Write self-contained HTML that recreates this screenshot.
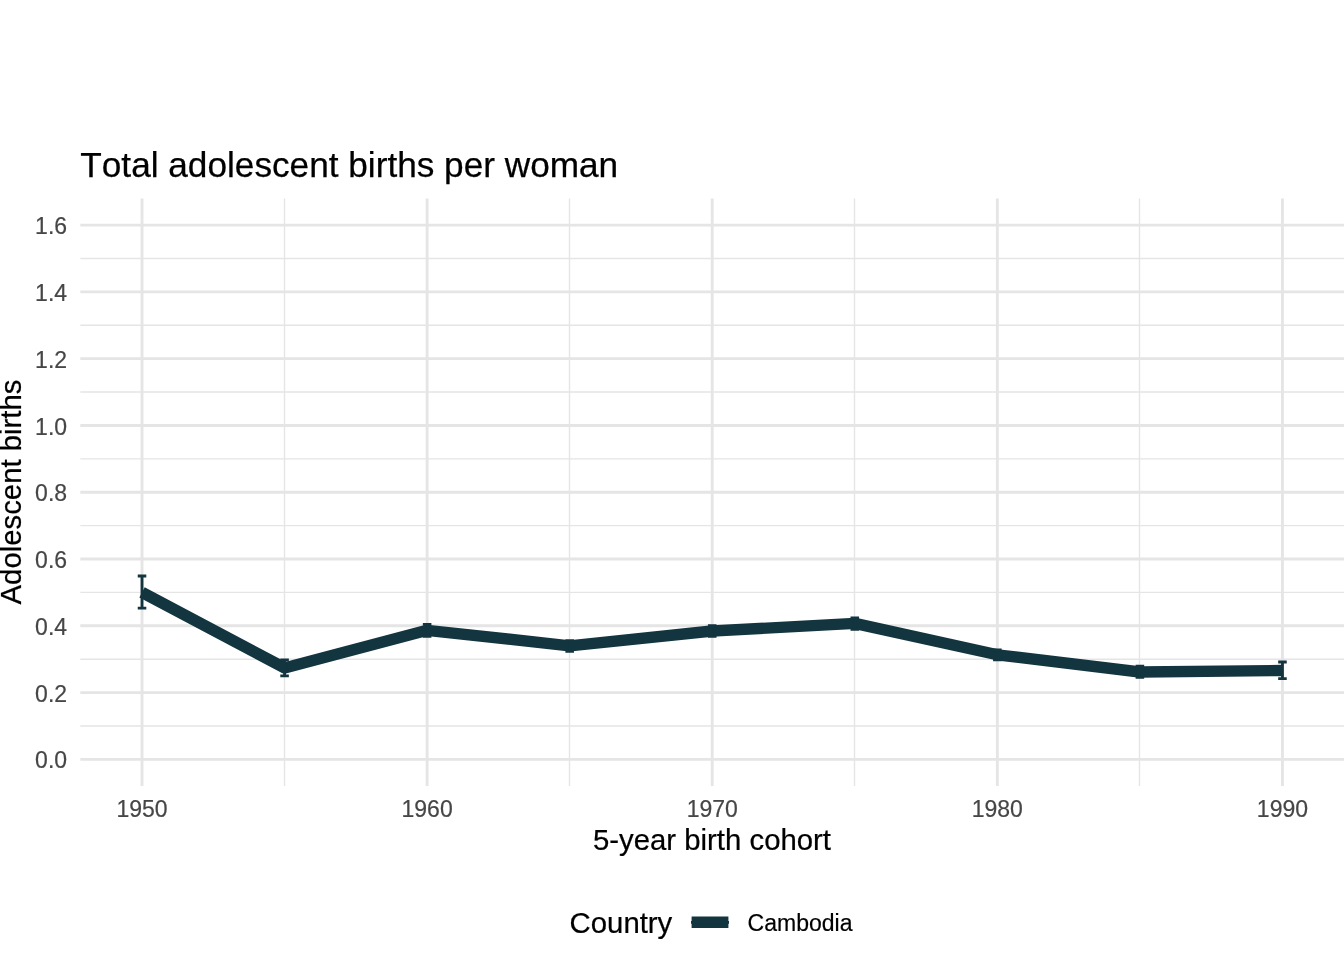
<!DOCTYPE html>
<html lang="en">
<head>
<meta charset="utf-8">
<title>Total adolescent births per woman</title>
<style>
html,body{margin:0;padding:0;background:#fff;}
body{width:1344px;height:960px;overflow:hidden;}
svg{display:block;}
text{font-family:"Liberation Sans",Arial,Helvetica,sans-serif;font-kerning:none;}
.tick{font-size:23px;fill:#464646;stroke:#464646;stroke-width:0.2px;}
.axt{font-size:29.33px;fill:#000;stroke:#000;stroke-width:0.22px;}
.ttl{font-size:35.2px;fill:#000;stroke:#000;stroke-width:0.25px;}
.lgt{font-size:23px;fill:#000;stroke:#000;stroke-width:0.18px;}
</style>
</head>
<body>
<svg width="1344" height="960" viewBox="0 0 1344 960">
<rect x="0" y="0" width="1344" height="960" fill="#ffffff"/>
<g stroke="#E5E5E5" stroke-width="1.42" fill="none">
<line x1="80.3" y1="725.96" x2="1344" y2="725.96"/>
<line x1="80.3" y1="659.18" x2="1344" y2="659.18"/>
<line x1="80.3" y1="592.40" x2="1344" y2="592.40"/>
<line x1="80.3" y1="525.62" x2="1344" y2="525.62"/>
<line x1="80.3" y1="458.84" x2="1344" y2="458.84"/>
<line x1="80.3" y1="392.06" x2="1344" y2="392.06"/>
<line x1="80.3" y1="325.28" x2="1344" y2="325.28"/>
<line x1="80.3" y1="258.50" x2="1344" y2="258.50"/>
<line x1="284.50" y1="198.4" x2="284.50" y2="786.0"/>
<line x1="569.50" y1="198.4" x2="569.50" y2="786.0"/>
<line x1="854.50" y1="198.4" x2="854.50" y2="786.0"/>
<line x1="1139.50" y1="198.4" x2="1139.50" y2="786.0"/>
</g>
<g stroke="#E5E5E5" stroke-width="2.85" fill="none">
<line x1="80.3" y1="759.35" x2="1344" y2="759.35"/>
<line x1="80.3" y1="692.57" x2="1344" y2="692.57"/>
<line x1="80.3" y1="625.79" x2="1344" y2="625.79"/>
<line x1="80.3" y1="559.01" x2="1344" y2="559.01"/>
<line x1="80.3" y1="492.23" x2="1344" y2="492.23"/>
<line x1="80.3" y1="425.45" x2="1344" y2="425.45"/>
<line x1="80.3" y1="358.67" x2="1344" y2="358.67"/>
<line x1="80.3" y1="291.89" x2="1344" y2="291.89"/>
<line x1="80.3" y1="225.11" x2="1344" y2="225.11"/>
<line x1="142.02" y1="198.4" x2="142.02" y2="786.0"/>
<line x1="427.13" y1="198.4" x2="427.13" y2="786.0"/>
<line x1="712.24" y1="198.4" x2="712.24" y2="786.0"/>
<line x1="997.35" y1="198.4" x2="997.35" y2="786.0"/>
<line x1="1282.46" y1="198.4" x2="1282.46" y2="786.0"/>
</g>
<polyline points="142.02,592.40 284.58,667.90 427.13,630.30 569.68,645.80 712.24,631.00 854.79,623.40 997.35,654.80 1139.90,672.00 1282.46,670.50" fill="none" stroke="#13353F" stroke-width="11.38" stroke-linejoin="round" stroke-linecap="butt"/>
<g stroke="#13353F" stroke-width="2.85" fill="none" stroke-linecap="butt">
<path d="M137.74 575.95H146.30M142.02 575.95V608.05M137.74 608.05H146.30"/>
<path d="M280.30 660.00H288.85M284.58 660.00V675.90M280.30 675.90H288.85"/>
<path d="M422.85 624.30H431.41M427.13 624.30V636.20M422.85 636.20H431.41"/>
<path d="M565.41 640.70H573.96M569.68 640.70V651.40M565.41 651.40H573.96"/>
<path d="M707.96 625.70H716.52M712.24 625.70V636.30M707.96 636.30H716.52"/>
<path d="M850.52 617.85H859.07M854.79 617.85V629.30M850.52 629.30H859.07"/>
<path d="M993.07 649.90H1001.63M997.35 649.90V659.80M993.07 659.80H1001.63"/>
<path d="M1135.63 666.20H1144.18M1139.90 666.20V677.40M1135.63 677.40H1144.18"/>
<path d="M1278.18 661.95H1286.74M1282.46 661.95V678.60M1278.18 678.60H1286.74"/>
</g>
<g class="tick" text-anchor="end">
<text x="67.1" y="768.45">0.0</text>
<text x="67.1" y="701.67">0.2</text>
<text x="67.1" y="634.89">0.4</text>
<text x="67.1" y="568.11">0.6</text>
<text x="67.1" y="501.33">0.8</text>
<text x="67.1" y="434.55">1.0</text>
<text x="67.1" y="367.77">1.2</text>
<text x="67.1" y="300.99">1.4</text>
<text x="67.1" y="234.21">1.6</text>
</g>
<g class="tick" text-anchor="middle">
<text x="142.02" y="817.2">1950</text>
<text x="427.13" y="817.2">1960</text>
<text x="712.24" y="817.2">1970</text>
<text x="997.35" y="817.2">1980</text>
<text x="1282.46" y="817.2">1990</text>
</g>
<text class="ttl" x="80.3" y="176.9">Total adolescent births per woman</text>
<text class="axt" x="712" y="849.8" text-anchor="middle">5-year birth cohort</text>
<text class="axt" transform="translate(20.8 492) rotate(-90)" text-anchor="middle">Adolescent births</text>
<text class="axt" x="569.6" y="932.9">Country</text>
<line x1="691.6" y1="922.3" x2="728.4" y2="922.3" stroke="#13353F" stroke-width="11.38"/>
<line x1="691.0" y1="922.3" x2="729.0" y2="922.3" stroke="#13353F" stroke-width="2.85"/>
<text class="lgt" x="747.6" y="931">Cambodia</text>
</svg>
</body>
</html>
